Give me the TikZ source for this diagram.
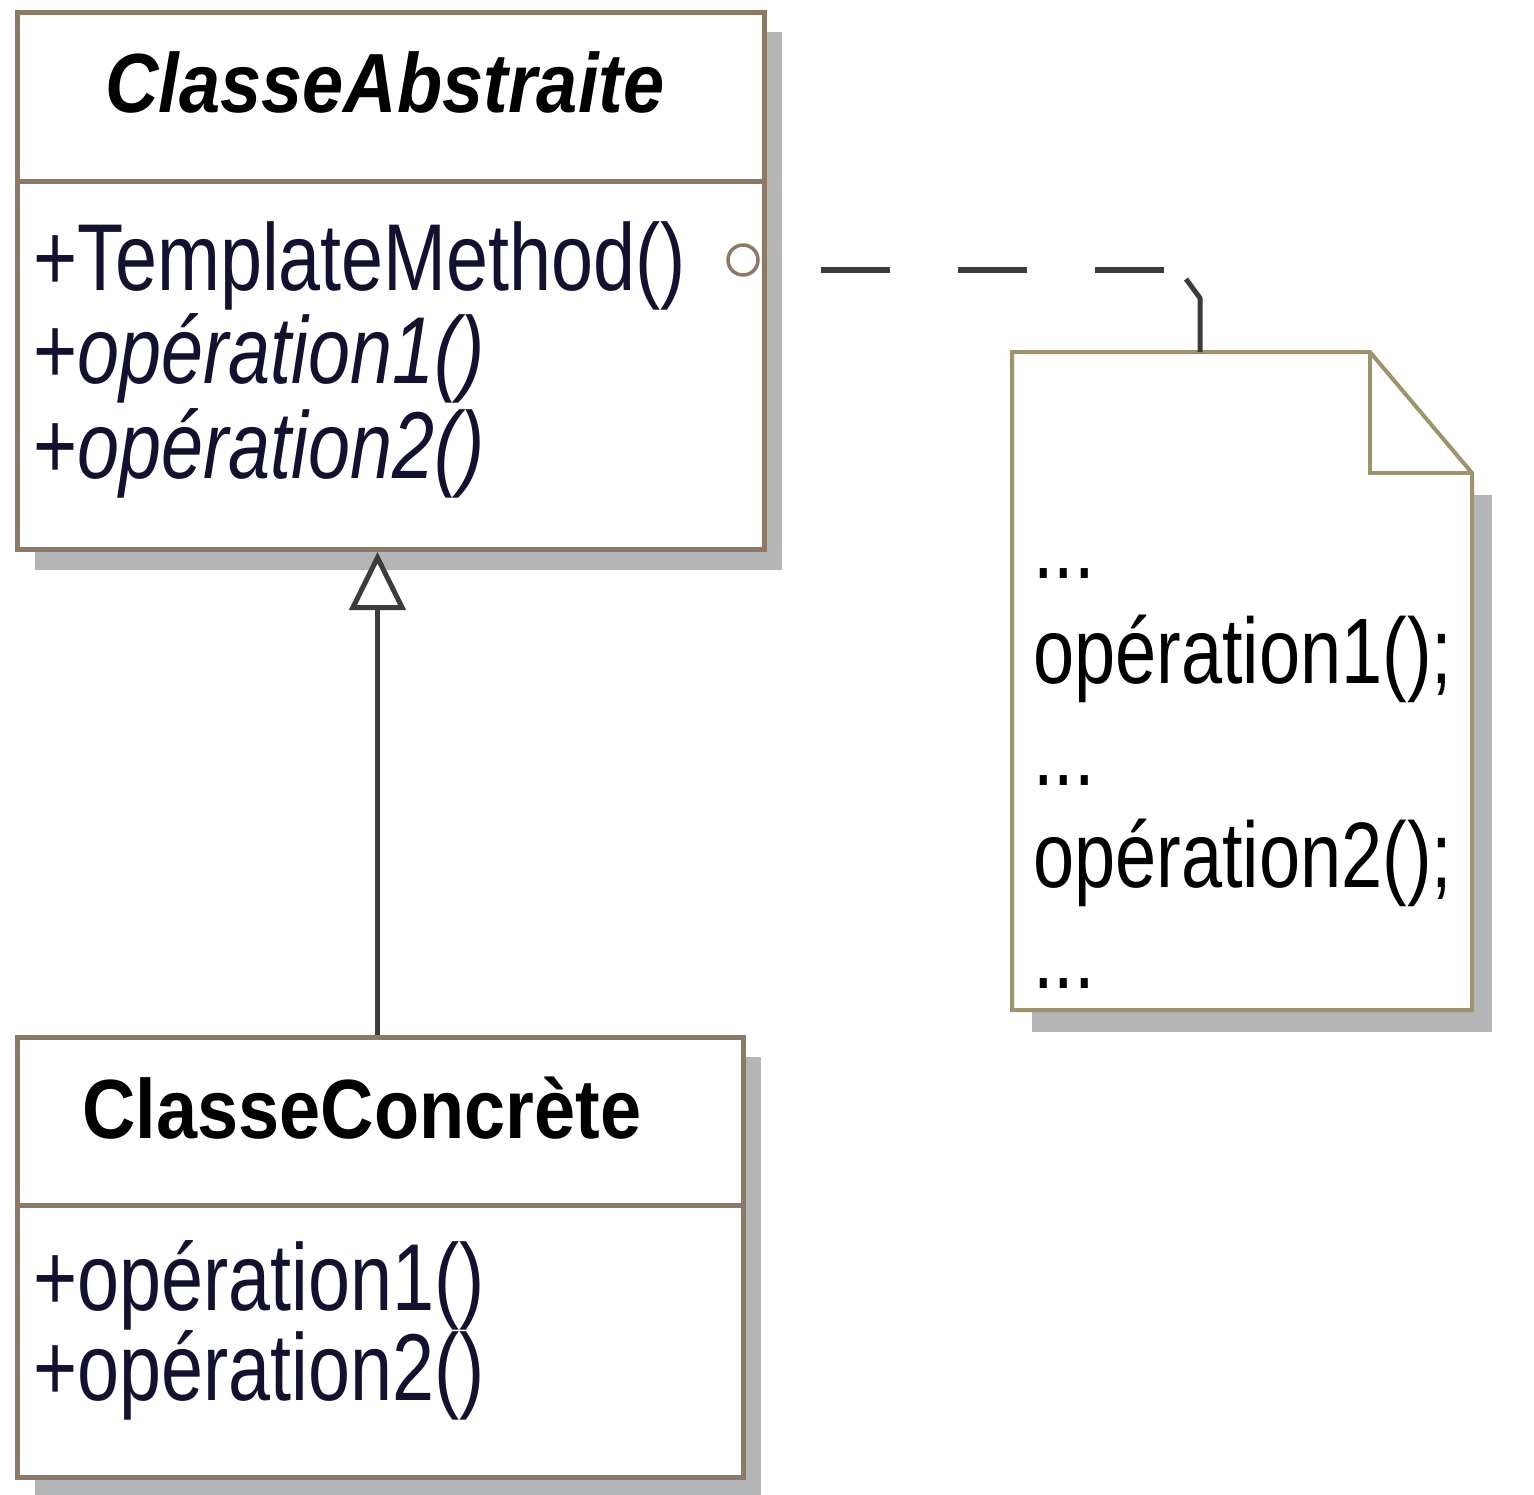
\documentclass[tikz,border=0pt]{standalone}
\usepackage{fontspec}
\setmainfont{Liberation Sans}
\newfontfamily\umlfont[FakeStretch=0.795]{Liberation Sans}
\newfontfamily\umlhead[FakeStretch=0.88]{Liberation Sans}
\usetikzlibrary{arrows.meta}

\definecolor{classedge}{RGB}{140,122,102}
\definecolor{noteedge}{RGB}{158,148,108}
\definecolor{shadowgray}{RGB}{180,181,183}
\definecolor{linkgray}{RGB}{60,60,60}
\definecolor{opink}{RGB}{18,18,48}

\tikzset{
  classbox/.style={draw=classedge, line width=5pt, fill=white, rectangle, inner sep=0pt, anchor=north west},
  shadowfill/.style={fill=shadowgray},
  headtext/.style={font=\umlhead\bfseries\fontsize{84}{90}\selectfont, inner sep=0pt, anchor=base},
  optext/.style={font=\umlfont\fontsize{95}{100}\selectfont, text=opink, inner sep=0pt, anchor=base west},
  notetext/.style={font=\umlfont\fontsize{93}{100}\selectfont, inner sep=0pt, anchor=base west},
  hookcirc/.style={circle, draw=classedge, line width=3.5pt, fill=white, minimum size=30pt, inner sep=0pt},
  inherit/.style={draw=linkgray, line width=5pt, -{Triangle[open, length=58pt, width=56pt, fill=white]}},
  noteline/.style={draw=linkgray, line width=6pt, dash pattern=on 69pt off 68pt, dash phase=76pt},
  notestub/.style={draw=linkgray, line width=5pt, line join=round},
}

\begin{document}
\begin{tikzpicture}[x=1pt, y=-1pt]
    \useasboundingbox[fill=white] (0,0) rectangle (1534,1494);
    % shadows
    \fill[shadowfill] (35,32) rectangle (782,570);
    \fill[shadowfill] (35,1057) rectangle (761,1497);
    \fill[shadowfill] (1032,495) rectangle (1492,1032);

    % abstract class
    \node[classbox, minimum width=747pt, minimum height=537pt] (abstraite) at (15,10) {};
        \draw[classedge, line width=5pt] (abstraite.west |- 0,181) -- (abstraite.east |- 0,181);
        \node[headtext] (abshead) at (385,112) {\itshape ClasseAbstraite};
        \node[optext] (tmpl) at (33,290) {+TemplateMethod()};
        \node[optext] (absop1) at (33,383) {+\textit{opération1()}};
        \node[optext] (absop2) at (33,478) {+\textit{opération2()}};
        \node[hookcirc] (hook) at (743,260) {};

    % concrete class
    \node[classbox, minimum width=726pt, minimum height=440pt] (concrete) at (15,1035) {};
        \draw[classedge, line width=5pt] (concrete.west |- 0,1205) -- (concrete.east |- 0,1205);
        \node[headtext] (conchead) at (362,1138) {ClasseConcrète};
        \node[optext] (concop1) at (33,1310) {+opération1()};
        \node[optext] (concop2) at (33,1400) {+opération2()};

    % note
    \draw[noteedge, line width=4pt, fill=white] (1012,352) -- (1370,352) -- (1472,473)
        -- (1472,1010) -- (1012,1010) -- cycle;
    \draw[noteedge, line width=4pt] (1370,352) -- (1370,473) -- (1472,473);
    \coordinate (notetop) at (1200,352);
    \coordinate (elbow) at (1180,270);
    \coordinate (stub) at (1186,279);
        \node[notetext] (dots1) at (1033,578) {...};
        \node[notetext] (call1) at (1033,683) {opération1();};
        \node[notetext] (dots2) at (1033,785) {...};
        \node[notetext] (call2) at (1033,887) {opération2();};
        \node[notetext] (dots3) at (1033,988) {...};

    % links
    \draw[inherit] ([xshift=-3pt]concrete.north) -- ([xshift=-3pt]concrete.north |- abstraite.south);
    \draw[noteline] ([yshift=-10pt]hook.east) -- (elbow);
    \draw[notestub] (stub) -- ([yshift=54pt]notetop) -- (notetop);
\end{tikzpicture}
\end{document}
